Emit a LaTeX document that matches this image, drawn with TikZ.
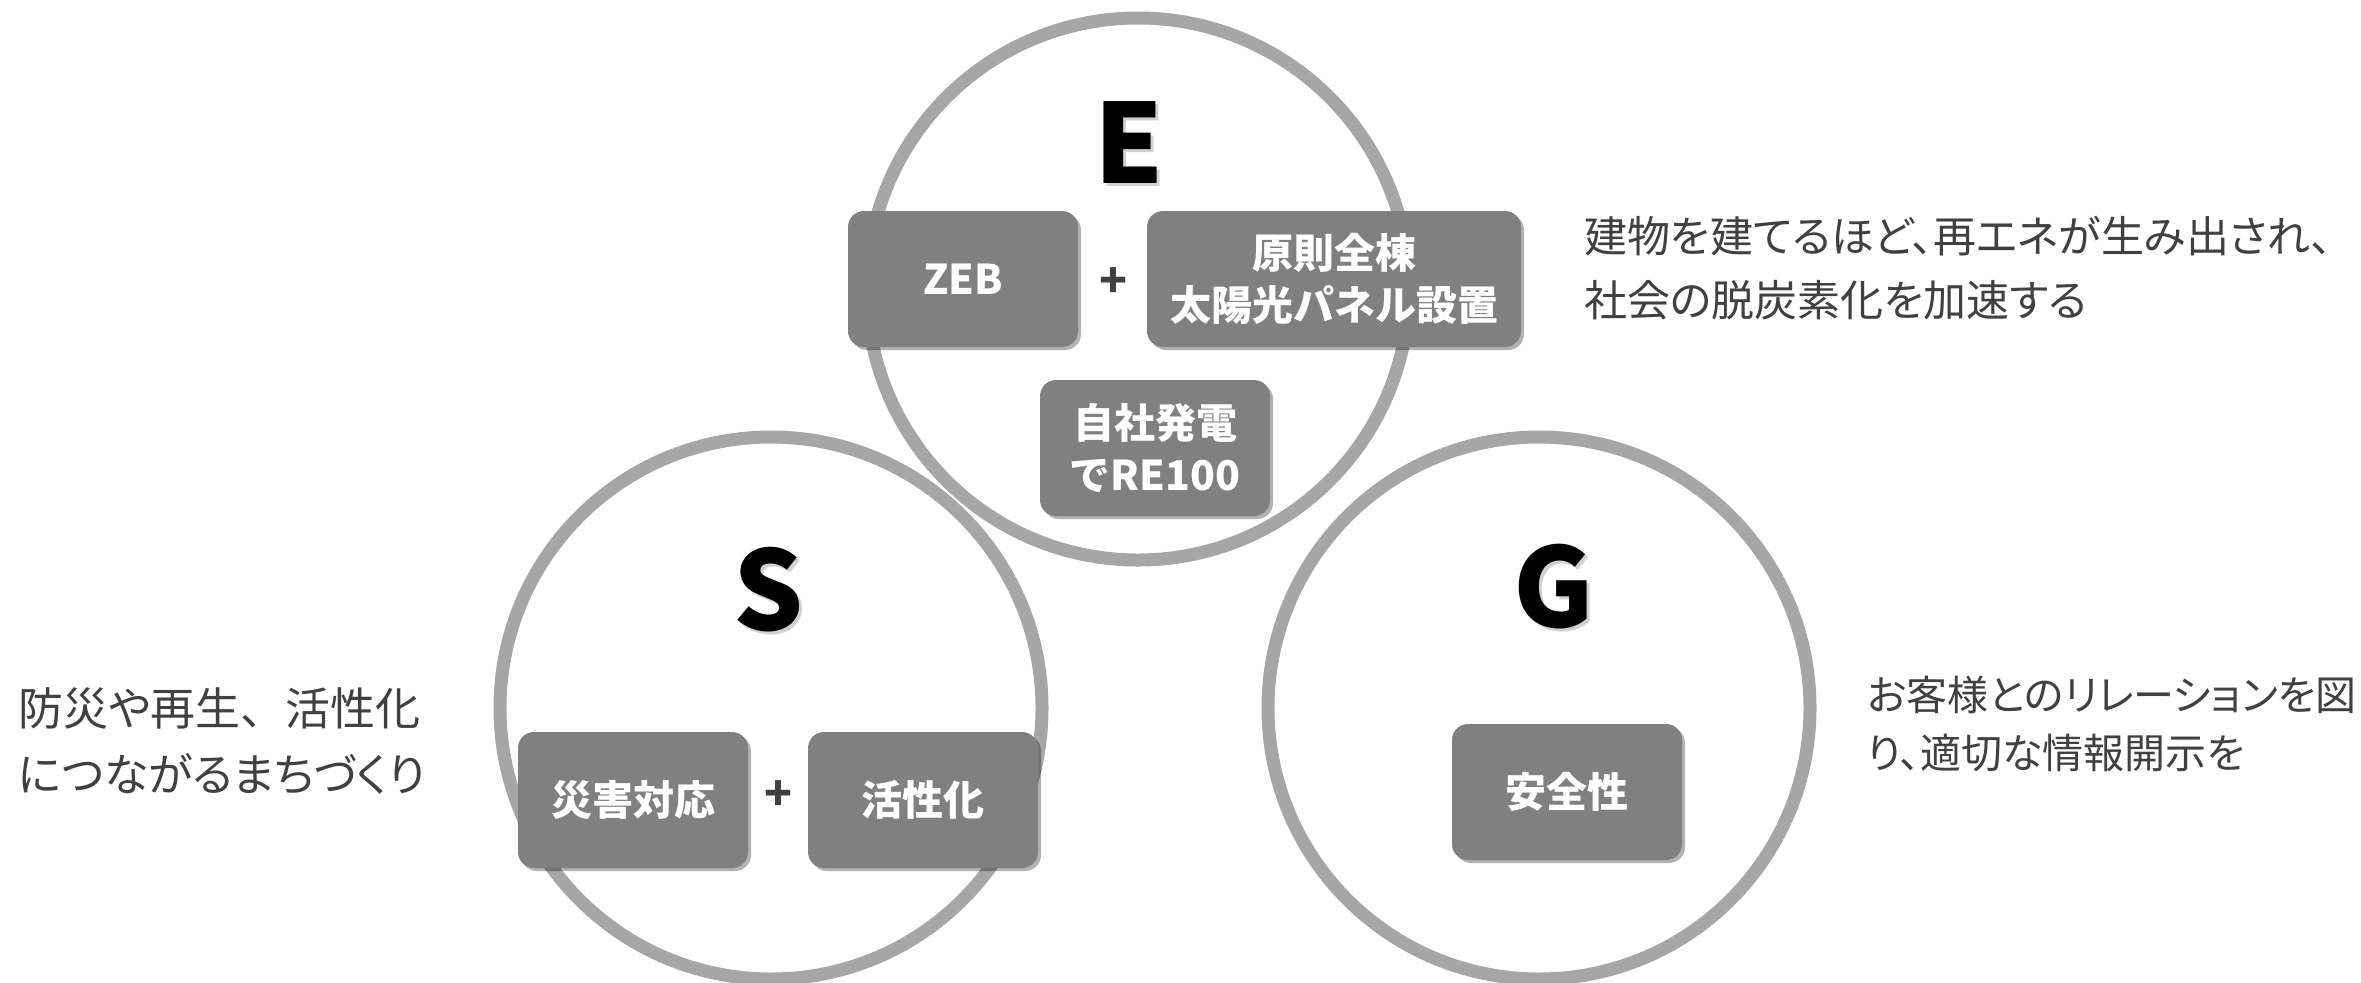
\documentclass[tikz,border=0pt]{standalone}
\usepackage{fontspec}
\newfontfamily\jp{Noto Sans CJK JP}
\newfontfamily\jpp{Noto Sans CJK JP}[RawFeature=+palt]
\usetikzlibrary{shadows}
\definecolor{ringgray}{HTML}{A6A6A6}
\definecolor{boxgray}{HTML}{808080}
\definecolor{txtgray}{HTML}{404040}
\tikzset{
  ring/.style={draw=ringgray, line width=6.5pt},
  gbox/.style={fill=boxgray, rounded corners=8pt, text=white, font=\jp\bfseries\fontsize{20.5}{26}\selectfont,
    align=center, inner sep=0pt, minimum height=68pt,
    drop shadow={shadow xshift=1.5pt, shadow yshift=-1.5pt, opacity=0.3, fill=black}},
  plus/.style={text=txtgray, font=\jp\bfseries\fontsize{23}{26}\selectfont},
  bigletter/.style={font=\jp\bfseries\fontsize{55}{60}\selectfont, text=black},
  shadowletter/.style={font=\jp\bfseries\fontsize{55}{60}\selectfont, text=black, opacity=0.18},
  sidetext/.style={text=txtgray, anchor=west, align=left, inner sep=0pt}
}
\begin{document}
\begin{tikzpicture}[x=0.5pt,y=-0.5pt]
\useasboundingbox (0,0) rectangle (2361,982);
% circles
\draw[ring] (771,708) circle[radius=271];
\draw[ring] (1539,708) circle[radius=271];
\draw[ring] (1138,289) circle[radius=271];
% letters
\node[shadowletter] (Esh) at (1132,146) {E};
\node[bigletter] (E) at (1129,143) {E};
\node[shadowletter] (Ssh) at (772,593) {S};
\node[bigletter] (S) at (769,590) {S};
\node[shadowletter] (Gsh) at (1557,590) {G};
\node[bigletter] (G) at (1554,587) {G};
% E boxes
\node[gbox, minimum width=115pt] (zeb) at (963,279) {ZEB};
\node[plus] (p1) at (1113,283) {+};
\node[gbox, minimum width=187pt] (solar) at (1334,279) {原則全棟\\太陽光パネル設置};
\node[gbox, minimum width=115pt] (re) at (1155,448) {自社発電\\でRE100};
% S boxes
\node[gbox, minimum width=115pt] (dis) at (633,800) {災害対応};
\node[plus] (p2) at (778,796) {+};
\node[gbox, minimum width=115pt] (act) at (923,800) {活性化};
% G box
\node[gbox, minimum width=115pt] (safe) at (1567,792) {安全性};
% side texts
\node[sidetext, font=\jpp\fontsize{21.5}{32}\selectfont] (etext) at (1584,268) {建物を建てるほど、再エネが生み出され、\\社会の脱炭素化を加速する};
\node[sidetext, font=\jpp\fontsize{22.5}{33}\selectfont] (stext) at (18,741) {防災や再生{\jp 、}活性化\\につながるまちづくり};
\node[sidetext, font=\jpp\fontsize{20.5}{29}\selectfont] (gtext) at (1867,724) {お客様とのリレーションを図\\り、適切な情報開示を};
\end{tikzpicture}
\end{document}
